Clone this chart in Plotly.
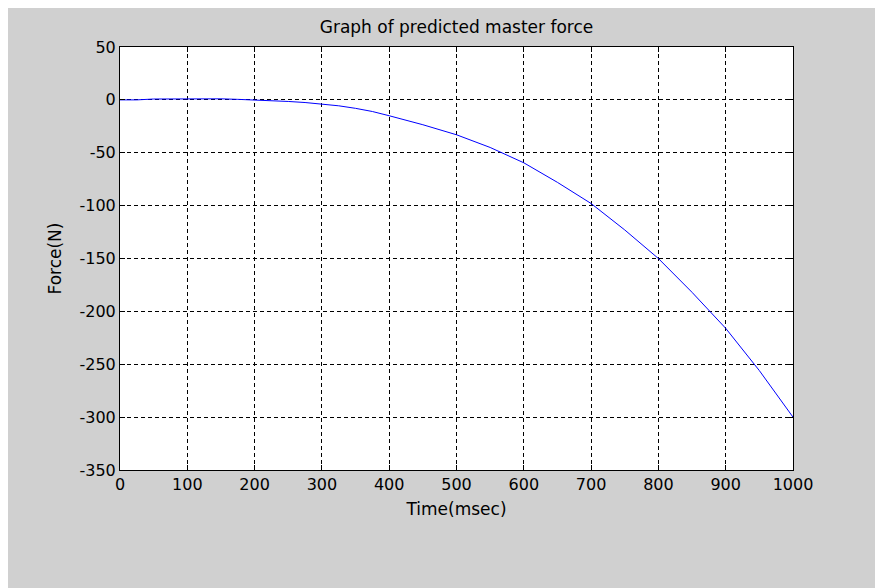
import plotly.graph_objects as go

# Predicted master force over time
time_ms = [0, 25, 50, 75, 100, 125, 150, 175, 200, 225, 250, 275, 300, 325, 350,
           375, 400, 450, 500, 550, 600, 650, 700, 750, 800, 850, 900, 950, 1000]
force_n = [0, 0, 0.8, 1.0, 1.2, 1.2, 1.0, 0.5, 0, -0.8, -1.5, -2.5, -3.8, -5.6, -8.0,
           -11.0, -15.0, -23.5, -33, -45, -59.5, -78, -98, -123, -150, -182, -216, -256, -300]

x_ticks = [0, 100, 200, 300, 400, 500, 600, 700, 800, 900, 1000]
y_ticks = [50, 0, -50, -100, -150, -200, -250, -300, -350]

W, H = 875, 588
ML, MR, MT, MB = 120, 82, 47, 118
PW, PH = W - ML - MR, H - MT - MB


def px_to_paper_x(px):
    return (px - ML) / PW


def px_to_paper_y(py):
    return (H - MB - py) / PH


FIG_BG = "#d0d0d0"
TEXT_FONT = dict(family="DejaVu Sans", size=17, color="#000000")
TICK_FONT = dict(family="DejaVu Sans", size=16, color="#000000")

fig = go.Figure()
fig.add_trace(go.Scatter(
    x=time_ms, y=force_n, mode="lines",
    line=dict(color="#0000ff", width=1),
    showlegend=False, hoverinfo="x+y",
))

axis_common = dict(
    showline=True, linecolor="#000000", linewidth=1, mirror="ticks",
    ticks="inside", ticklen=5, tickcolor="#000000", tickwidth=1,
    showgrid=True, gridcolor="#000000", gridwidth=1, griddash="4px,3px",
    zeroline=False, tickfont=TICK_FONT,
)

fig.update_xaxes(
    range=[0, 1000], tickmode="array", tickvals=x_ticks,
    ticktext=[str(v) for v in x_ticks],
    title=dict(text="Time(msec)", font=TEXT_FONT, standoff=9),
    **axis_common,
)
fig.update_yaxes(
    range=[-350, 50], tickmode="array", tickvals=y_ticks,
    ticktext=[str(v) for v in y_ticks],
    title=dict(text="Force(N)", font=TEXT_FONT, standoff=13),
    **axis_common,
)

# White border strips along the top and left edges of the figure window
fig.add_shape(type="rect", xref="paper", yref="paper",
              x0=px_to_paper_x(0), x1=px_to_paper_x(W),
              y0=px_to_paper_y(8), y1=px_to_paper_y(0),
              fillcolor="#ffffff", line=dict(width=0), layer="below")
fig.add_shape(type="rect", xref="paper", yref="paper",
              x0=px_to_paper_x(0), x1=px_to_paper_x(8),
              y0=px_to_paper_y(H), y1=px_to_paper_y(0),
              fillcolor="#ffffff", line=dict(width=0), layer="below")

fig.update_layout(
    width=W, height=H,
    margin=dict(l=ML, r=MR, t=MT, b=MB),
    paper_bgcolor=FIG_BG, plot_bgcolor="#ffffff",
    title=dict(text="Graph of predicted master force", font=TEXT_FONT,
               x=px_to_paper_x((ML + W - MR) / 2), xref="paper", xanchor="center",
               y=1 - 27 / H, yref="container", yanchor="middle"),
)

fig.write_html("out.html")
